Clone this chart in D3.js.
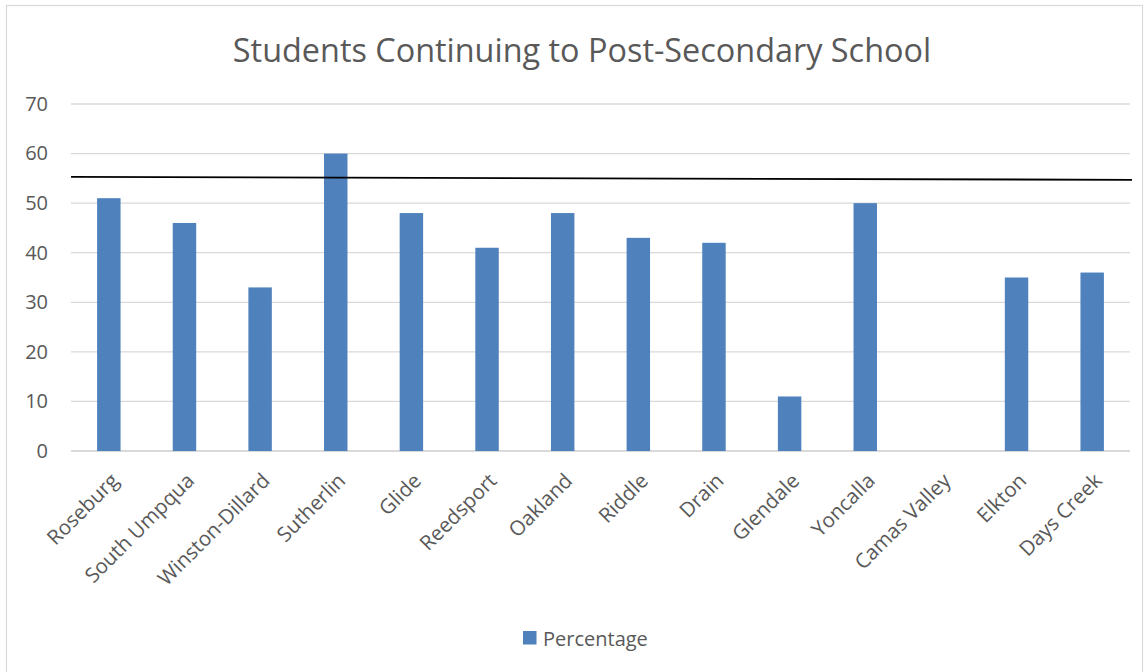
<!DOCTYPE html>
<html>
<head>
<meta charset="utf-8">
<script src="https://cdn.jsdelivr.net/npm/d3@7"></script>
<style>
  html, body { margin: 0; padding: 0; background: #fff; }
  svg { display: block; font-family: "Open Sans", "Noto Sans", sans-serif; }
</style>
</head>
<body>
<svg id="chart" width="1145" height="672"></svg>
<script>
// Share of graduates continuing to post-secondary school, by district
const schools = ["Roseburg", "South Umpqua", "Winston-Dillard", "Sutherlin", "Glide",
  "Reedsport", "Oakland", "Riddle", "Drain", "Glendale", "Yoncalla", "Camas Valley",
  "Elkton", "Days Creek"];
const percentage = [51, 46, 33, 60, 48, 41, 48, 43, 42, 11, 50, 0, 35, 36];
const yTicks = [0, 10, 20, 30, 40, 50, 60, 70];
// Reference line: value at the left and right ends of the plot
const referenceLine = [55.3, 54.7];

const svg = d3.select("#chart");
const W = 1145, H = 672;
const margin = { left: 71, right: 15, top: 104, bottom: 221 };
const plotW = W - margin.left - margin.right;
const plotH = H - margin.top - margin.bottom;
const textColor = "#595959";

// chart frame
svg.append("rect")
  .attr("x", 6.5).attr("y", 5.5)
  .attr("width", W - 9).attr("height", H - 4)
  .attr("fill", "#fff").attr("stroke", "#d9d9d9").attr("stroke-width", 1.2);

svg.append("text")
  .attr("x", 582).attr("y", 62)
  .attr("text-anchor", "middle")
  .attr("fill", textColor)
  .attr("font-size", 32.4)
  .text("Students Continuing to Post-Secondary School");

const g = svg.append("g").attr("transform", `translate(${margin.left},${margin.top})`);

const x = d3.scaleBand().domain(schools).range([0, plotW]).paddingInner(0.69).paddingOuter(0.345);
const y = d3.scaleLinear().domain([0, 70]).range([plotH, 0]);

// horizontal gridlines
g.append("g")
  .selectAll("line")
  .data(yTicks)
  .join("line")
  .attr("x1", 0).attr("x2", plotW)
  .attr("y1", d => y(d)).attr("y2", d => y(d))
  .attr("stroke", "#d9d9d9")
  .attr("stroke-width", d => d === 0 ? 2 : 1.3);

// y axis labels
const yAxis = g.append("g")
  .call(d3.axisLeft(y).tickValues(yTicks).tickSize(0).tickPadding(23));
yAxis.select(".domain").remove();
yAxis.selectAll("text")
  .attr("fill", textColor)
  .attr("font-size", 20)
  .attr("font-family", "Open Sans, Noto Sans, sans-serif");

// bars
g.append("g")
  .selectAll("rect")
  .data(percentage)
  .join("rect")
  .attr("x", (d, i) => x(schools[i]))
  .attr("y", d => y(d))
  .attr("width", x.bandwidth())
  .attr("height", d => y(0) - y(d))
  .attr("fill", "#4f81bd");

// x axis category labels, rotated
const xAxis = g.append("g")
  .attr("transform", `translate(0,${plotH})`)
  .call(d3.axisBottom(x).tickSize(0).tickPadding(0));
xAxis.select(".domain").remove();
xAxis.selectAll("text")
  .attr("fill", textColor)
  .attr("font-size", 20.5)
  .attr("font-family", "Open Sans, Noto Sans, sans-serif")
  .attr("text-anchor", "end")
  .attr("y", 0)
  .attr("dy", null)
  .attr("transform", "translate(11,31) rotate(-45)");

// reference line across the plot
g.append("line")
  .attr("x1", 0).attr("x2", plotW + 2)
  .attr("y1", y(referenceLine[0]))
  .attr("y2", y(referenceLine[1]))
  .attr("stroke", "#000")
  .attr("stroke-width", 1.8);

// legend
const legend = svg.append("g").attr("transform", "translate(523,631)");
legend.append("rect").attr("width", 13.5).attr("height", 13.5).attr("fill", "#4f81bd");
legend.append("text")
  .attr("x", 20).attr("y", 14.5)
  .attr("fill", textColor)
  .attr("font-size", 20)
  .text("Percentage");
</script>
</body>
</html>
